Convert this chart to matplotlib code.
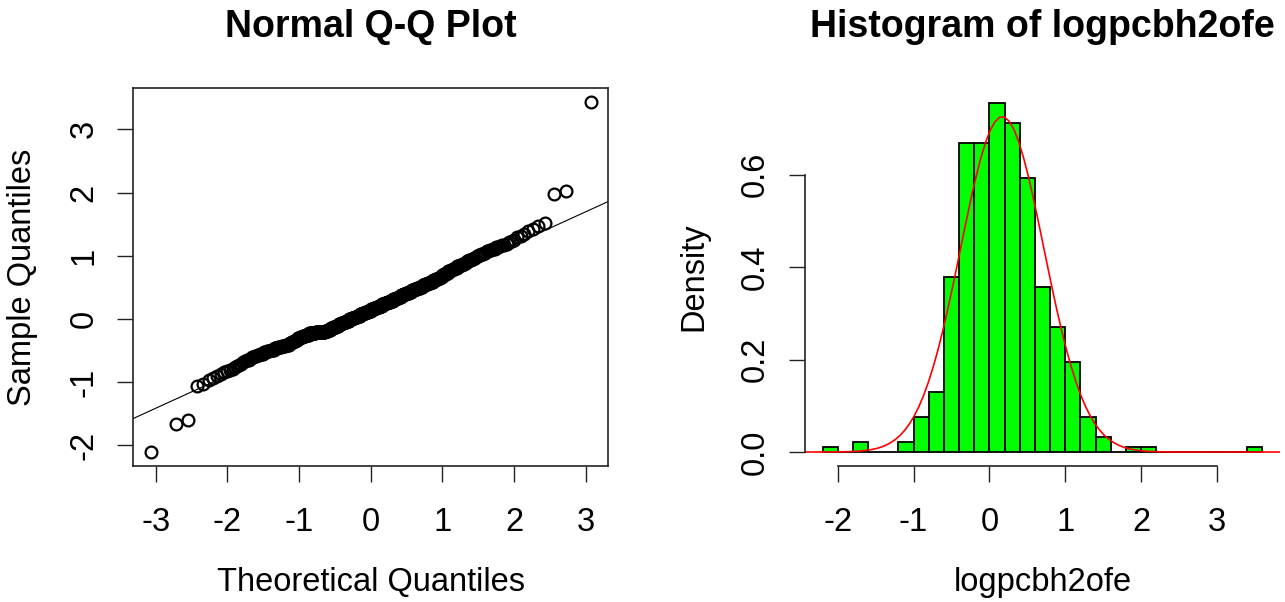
import numpy as np
import matplotlib
matplotlib.use("Agg")
import matplotlib.pyplot as plt
from statistics import NormalDist

# ---------------- data ----------------
# sorted values of logpcbh2ofe, as a frequency table at 0.02 resolution
sample_values = [
    -2.11, -1.67, -1.61, -1.07, -1.03,
    -0.97, -0.93, -0.91, -0.87, -0.85, -0.83, -0.81,
    -0.79, -0.77, -0.75, -0.73, -0.71, -0.69, -0.67, -0.65, -0.63, -0.61,
    -0.59, -0.57, -0.55, -0.53, -0.51, -0.49, -0.47, -0.45, -0.43, -0.41,
    -0.39, -0.37, -0.35, -0.33, -0.31, -0.29, -0.27, -0.25, -0.23, -0.21,
    -0.19, -0.17, -0.15, -0.13, -0.11, -0.09, -0.07, -0.05, -0.03, -0.01,
    0.01, 0.03, 0.05, 0.07, 0.09, 0.11, 0.13, 0.15, 0.17, 0.19,
    0.21, 0.23, 0.25, 0.27, 0.29, 0.31, 0.33, 0.35, 0.37, 0.39,
    0.41, 0.43, 0.45, 0.47, 0.49, 0.51, 0.53, 0.55, 0.57, 0.59,
    0.61, 0.63, 0.65, 0.67, 0.69, 0.71, 0.73, 0.75, 0.77, 0.79,
    0.81, 0.83, 0.85, 0.87, 0.89, 0.91, 0.93, 0.95, 0.97, 0.99,
    1.01, 1.03, 1.05, 1.07, 1.09, 1.11, 1.13, 1.15, 1.17, 1.19,
    1.21, 1.23, 1.25, 1.29, 1.31, 1.35, 1.39,
    1.43, 1.47, 1.51, 1.97, 2.03, 3.43,
]
sample_counts = [
    1, 1, 1, 1, 1,
    1, 1, 1, 1, 1, 1, 1,
    1, 1, 1, 1, 1, 1, 1, 2, 1, 2,
    2, 2, 3, 3, 3, 4, 4, 4, 5, 5,
    3, 3, 3, 3, 4, 4, 5, 6, 12, 19,
    6, 6, 6, 6, 6, 6, 6, 7, 6, 7,
    7, 7, 7, 7, 7, 7, 7, 7, 7, 7,
    7, 7, 7, 7, 7, 7, 6, 6, 6, 6,
    6, 6, 6, 6, 6, 5, 5, 5, 5, 5,
    4, 4, 4, 3, 3, 3, 3, 3, 3, 3,
    3, 3, 3, 3, 2, 2, 3, 2, 2, 2,
    2, 2, 2, 2, 2, 2, 2, 1, 2, 1,
    1, 1, 1, 1, 1, 1, 1,
    1, 1, 1, 1, 1, 1,
]
hist_breaks = [-2.2, -2.0, -1.8, -1.6, -1.4, -1.2, -1.0, -0.8, -0.6, -0.4,
               -0.2, 0.0, 0.2, 0.4, 0.6, 0.8, 1.0, 1.2, 1.4, 1.6,
               1.8, 2.0, 2.2, 2.4, 2.6, 2.8, 3.0, 3.2, 3.4, 3.6]

qq_xticks = [-3, -2, -1, 0, 1, 2, 3]
qq_xticklabels = ["-3", "-2", "-1", "0", "1", "2", "3"]
qq_yticks = [-2, -1, 0, 1, 2, 3]
qq_yticklabels = ["-2", "-1", "0", "1", "2", "3"]
hist_xticks = [-2, -1, 0, 1, 2, 3]
hist_xticklabels = ["-2", "-1", "0", "1", "2", "3"]
hist_yticks = [0.0, 0.2, 0.4, 0.6]
hist_yticklabels = ["0.0", "0.2", "0.4", "0.6"]

qq_title = "Normal Q-Q Plot"
qq_xlabel = "Theoretical Quantiles"
qq_ylabel = "Sample Quantiles"
hist_title = "Histogram of logpcbh2ofe"
hist_xlabel = "logpcbh2ofe"
hist_ylabel = "Density"

# ---------------- figure ----------------
plt.rcParams['font.family'] = ['Liberation Sans', 'DejaVu Sans']
W, H = 1285, 602
fig = plt.figure(figsize=(W / 100, H / 100), dpi=100)
FS = 23.5
TFS = 27

def fx(px):
    return px / W

def fy(py):
    return 1 - py / H

def r_lim(lo, hi):
    w = hi - lo
    return lo - 0.04 * w, hi + 0.04 * w

logp = np.repeat(np.array(sample_values), np.array(sample_counts))
n = len(logp)
nd = NormalDist()
theo = np.array([nd.inv_cdf((i - 0.5) / n) for i in range(1, n + 1)])

# ---- left: Normal Q-Q plot ----
ax1 = fig.add_axes([fx(133.3), fy(466), fx(608.3) - fx(133.3), (466 - 88.3) / H])
ax1.plot(theo, np.sort(logp), linestyle='none', marker='o', markerfacecolor='none',
         markeredgecolor='black', markersize=8.5, markeredgewidth=1.6)
q25, q75 = np.percentile(logp, [25, 75])
t25, t75 = nd.inv_cdf(0.25), nd.inv_cdf(0.75)
slope = (q75 - q25) / (t75 - t25)
icpt = q25 - slope * t25
ax1.axline((0, icpt), slope=slope, color='black', lw=0.8)
ax1.set_xlim(*r_lim(theo.min(), theo.max()))
ax1.set_ylim(*r_lim(logp.min(), logp.max()))
ax1.set_xticks(qq_xticks, qq_xticklabels, fontsize=FS)
ax1.set_yticks(qq_yticks, qq_yticklabels, fontsize=FS, rotation=90, va='center')
ax1.tick_params(axis='both', direction='out', length=11.5, width=1.0, color='#222222')
ax1.tick_params(axis='x', pad=18)
ax1.tick_params(axis='y', pad=13)
for sp in ax1.spines.values():
    sp.set_linewidth(1.2)
    sp.set_color('#222222')
ax1.set_title(qq_title, fontsize=TFS, fontweight='bold', pad=37)

# ---- right: histogram ----
ax2 = fig.add_axes([fx(805), fy(466), fx(1280) - fx(805), (466 - 88.7) / H])
dens, _ = np.histogram(logp, bins=hist_breaks, density=True)
ax2.hist(logp, bins=hist_breaks, density=True, facecolor='#00FF00',
         edgecolor='black', linewidth=1.3)
ax2.set_xlim(*r_lim(hist_breaks[0], hist_breaks[-1]))
ax2.set_ylim(*r_lim(0, dens.max()))
mu, sd = logp.mean(), logp.std(ddof=1)
xs = np.linspace(*ax2.get_xlim(), 101)
pdf = np.array([NormalDist(mu, sd).pdf(v) for v in xs])
ax2.plot(xs, pdf, color='red', lw=1.2)
ax2.spines['top'].set_visible(False)
ax2.spines['right'].set_visible(False)
ax2.spines['bottom'].set_bounds(hist_xticks[0], hist_xticks[-1])
ax2.spines['left'].set_bounds(hist_yticks[0], hist_yticks[-1])
for sp in ('bottom', 'left'):
    ax2.spines[sp].set_linewidth(1.2)
    ax2.spines[sp].set_color('#222222')
ax2.set_xticks(hist_xticks, hist_xticklabels, fontsize=FS)
ax2.set_yticks(hist_yticks, hist_yticklabels, fontsize=FS, rotation=90, va='center')
ax2.tick_params(axis='both', direction='out', length=11.5, width=1.0, color='#222222')
ax2.tick_params(axis='x', pad=18)
ax2.tick_params(axis='y', pad=13)
ax2.set_title(hist_title, fontsize=TFS, fontweight='bold', pad=37)

# axis labels
fig.text(fx(370.8), fy(591), qq_xlabel, fontsize=FS, ha='center', va='baseline')
fig.text(fx(1042.5), fy(591), hist_xlabel, fontsize=FS, ha='center', va='baseline')
fig.text(fx(22), fy(277), qq_ylabel, fontsize=FS, rotation=90, ha='center', va='center')
fig.text(fx(694), fy(277), hist_ylabel, fontsize=FS, rotation=90, ha='center', va='center')

fig.savefig("out.png", dpi=100)
